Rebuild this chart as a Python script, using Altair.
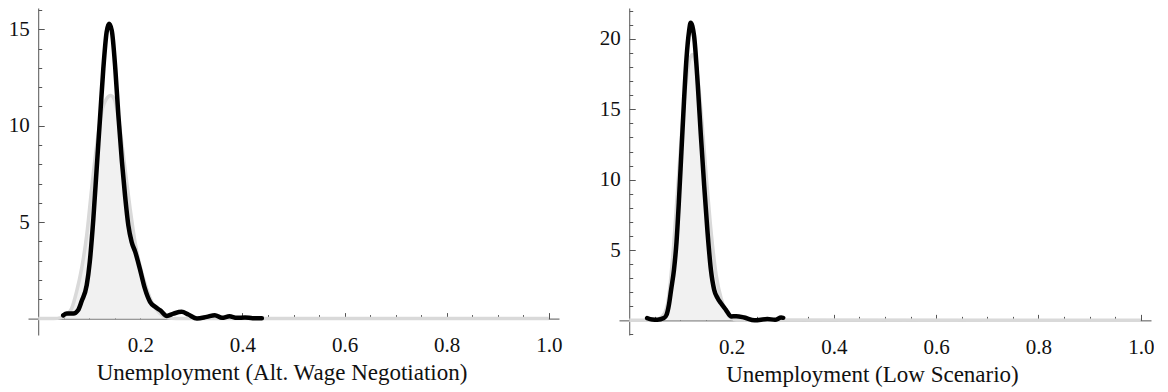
import altair as alt
import pandas as pd

# ---------------- data ----------------
# Left panel: Unemployment (Alt. Wage Negotiation)
left_black_x = [0.049, 0.056, 0.069, 0.078, 0.085, 0.095, 0.101, 0.108, 0.1145, 0.121, 0.1275,
                0.134, 0.1386, 0.144, 0.151, 0.157, 0.164, 0.170, 0.1765, 0.183, 0.190, 0.199,
                0.209, 0.219, 0.229, 0.239, 0.252, 0.265, 0.281, 0.294, 0.311, 0.330, 0.346,
                0.360, 0.3745, 0.389, 0.405, 0.420, 0.438]
left_black_y = [0.17, 0.26, 0.26, 0.43, 0.90, 1.73, 2.94, 5.18, 7.77, 10.36, 12.95,
                14.85, 15.28, 14.94, 12.95, 10.54, 8.12, 6.39, 4.84, 3.97, 3.46, 2.59,
                1.55, 0.87, 0.61, 0.43, 0.14, 0.26, 0.35, 0.21, 0.0, 0.09, 0.18,
                0.04, 0.12, 0.04, 0.06, 0.02, 0.02]
left_gray_x = [0.0, 0.03, 0.045, 0.055, 0.0655, 0.075, 0.085, 0.095, 0.1047, 0.1145, 0.1243,
               0.134, 0.142, 0.150, 0.160, 0.170, 0.180, 0.1896, 0.199, 0.2125, 0.2255,
               0.2386, 0.2518, 0.27, 1.0]
left_gray_y = [0.0, 0.0, 0.05, 0.2, 0.52, 1.38, 2.59, 4.32, 6.74, 8.98, 10.7,
               11.4, 11.57, 11.3, 9.84, 7.77, 5.7, 3.97, 2.77, 1.55, 0.69,
               0.26, 0.05, 0.0, 0.0]

# Right panel: Unemployment (Low Scenario)
right_black_x = [0.035, 0.045, 0.055, 0.0677, 0.073, 0.0776, 0.082, 0.0875, 0.0925, 0.097,
                 0.102, 0.107, 0.112, 0.117, 0.120, 0.1268, 0.134, 0.140, 0.1465, 0.153,
                 0.1596, 0.166, 0.1726, 0.179, 0.189, 0.199, 0.209, 0.225, 0.245, 0.27,
                 0.285, 0.297, 0.301]
right_black_y = [0.16, 0.06, 0.04, 0.16, 0.40, 1.1, 2.2, 3.6, 5.6, 8.4,
                 11.97, 15.55, 18.65, 20.56, 21.15, 20.2, 16.74, 13.16, 9.58, 6.3,
                 3.61, 2.18, 1.59, 1.23, 0.75, 0.28, 0.30, 0.20, 0.0, 0.1,
                 0.04, 0.2, 0.18]
right_gray_x = [0.0, 0.05, 0.065, 0.075, 0.085, 0.095, 0.105, 0.115, 0.123, 0.13, 0.14,
                0.15, 0.16, 0.17, 0.18, 0.19, 0.2, 0.21, 1.0]
right_gray_y = [0.0, 0.02, 0.3, 1.2, 4.5, 9.5, 14.5, 18.0, 18.9, 18.3, 15.0,
                10.5, 6.3, 3.2, 1.5, 0.6, 0.15, 0.02, 0.0]

x_label_values = [0.2, 0.4, 0.6, 0.8, 1.0]
x_tick_values = [round(0.05 * i, 2) for i in range(1, 21)]

FONT = "Liberation Serif"
AXIS_COLOR = "#555555"
TEXT_COLOR = "#111111"


def panel(bx, by, gx, gy, ydom, ylabels, yticks, title, w, h, title_shift):
    xdom = [-0.02, 1.02]
    black = pd.DataFrame({"x": bx, "y": by})
    gray = pd.DataFrame({"x": gx, "y": gy})
    xs = alt.Scale(domain=xdom, nice=False, zero=False)
    ys = alt.Scale(domain=ydom, nice=False, zero=False)
    x0 = w * (0 - xdom[0]) / (xdom[1] - xdom[0])          # pixel of x = 0
    y0 = h * (ydom[1] - 0) / (ydom[1] - ydom[0])          # pixel of y = 0

    label_x_axis = alt.Axis(
        orient="bottom", offset=-(h - y0), values=x_label_values, format=".1f",
        ticks=False, tickSize=0, grid=False, domain=True, domainColor=AXIS_COLOR,
        domainWidth=1, labelFont=FONT, labelFontSize=21, labelColor=TEXT_COLOR,
        labelPadding=16, title=title, titleFont=FONT, titleFontSize=23,
        titleFontWeight="normal", titleColor=TEXT_COLOR, titlePadding=6,
        titleX=w / 2 + title_shift,
    )
    label_y_axis = alt.Axis(
        orient="left", offset=-x0, values=ylabels, ticks=False, tickSize=0,
        grid=False, domain=True, domainColor=AXIS_COLOR, domainWidth=1,
        labelFont=FONT, labelFontSize=21, labelColor=TEXT_COLOR, labelPadding=9,
        title=None,
    )
    tick_x_axis = alt.Axis(
        orient="top", offset=-y0, values=x_tick_values, labels=False, domain=False,
        grid=False, tickColor=AXIS_COLOR, tickWidth=1,
        tickSize={"condition": {"test": "abs(datum.value*5 - round(datum.value*5)) < 0.01",
                                "value": 6}, "value": 4},
        title=None,
    )
    tick_y_axis = alt.Axis(
        orient="right", offset=-(w - x0), values=yticks, labels=False, domain=False,
        grid=False, tickColor=AXIS_COLOR, tickWidth=1,
        tickSize={"condition": {"test": "datum.value % 5 == 0", "value": 6}, "value": 3.5},
        title=None,
    )

    area = alt.Chart(gray).mark_area(color="#f1f1f1", interpolate="monotone").encode(
        x=alt.X("x:Q", scale=xs, axis=label_x_axis),
        y=alt.Y("y:Q", scale=ys, axis=label_y_axis),
    )
    gline = alt.Chart(gray).mark_line(color="#d9d9d9", strokeWidth=3.5,
                                      interpolate="monotone").encode(
        x=alt.X("x:Q", scale=xs, axis=None),
        y=alt.Y("y:Q", scale=ys, axis=None),
    )
    bline = alt.Chart(black).mark_line(color="#000000", strokeWidth=4.5,
                                       interpolate="monotone", strokeJoin="round",
                                       strokeCap="round").encode(
        x=alt.X("x:Q", scale=xs, axis=tick_x_axis),
        y=alt.Y("y:Q", scale=ys, axis=tick_y_axis),
    )
    return alt.layer(area, gline, bline).resolve_axis(x="independent", y="independent").properties(
        width=w, height=h)


left = panel(left_black_x, left_black_y, left_gray_x, left_gray_y,
             [-0.85, 16.1], [5, 10, 15], list(range(1, 17)),
             "Unemployment (Alt. Wage Negotiation)", 531, 327, -12)
right = panel(right_black_x, right_black_y, right_gray_x, right_gray_y,
              [-1.04, 22.2], [5, 10, 15, 20], list(range(-1, 23)),
              "Unemployment (Low Scenario)", 532, 327, -13)

chart = (alt.hconcat(left, right, spacing=37)
         .properties(padding=0)
         .configure(font=FONT, background="white")
         .configure_axis(labelFont=FONT, titleFont=FONT)
         .configure_view(strokeWidth=0, stroke="transparent"))

chart.save("out.html", embed_options={"renderer": "svg", "actions": False})
